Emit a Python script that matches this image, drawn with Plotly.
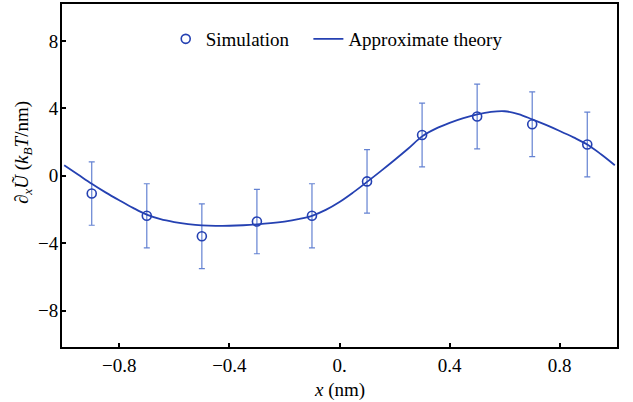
import plotly.graph_objects as go

# Simulation data points
sim_x = [-0.9, -0.7, -0.5, -0.3, -0.1, 0.1, 0.3, 0.5, 0.7, 0.9]
sim_y = [-1.05, -2.37, -3.58, -2.71, -2.37, -0.33, 2.42, 3.52, 3.06, 1.86]
sim_err = [1.88, 1.9, 1.92, 1.91, 1.9, 1.88, 1.89, 1.92, 1.92, 1.92]

# Approximate theory curve
theory_x = [-1.0, -0.95, -0.9, -0.85, -0.8, -0.75, -0.7, -0.65, -0.6, -0.55,
            -0.5, -0.45, -0.4, -0.35, -0.3, -0.25, -0.2, -0.15, -0.1, -0.05,
            0.0, 0.05, 0.1, 0.15, 0.2, 0.25, 0.3, 0.35, 0.4, 0.45,
            0.5, 0.55, 0.6, 0.65, 0.7, 0.75, 0.8, 0.85, 0.9, 0.95, 1.0]
theory_y = [0.63, 0.08, -0.47, -0.98, -1.45, -1.9, -2.3, -2.57, -2.74, -2.86,
            -2.94, -2.97, -2.96, -2.93, -2.88, -2.81, -2.71, -2.57, -2.37, -2.02,
            -1.55, -0.98, -0.36, 0.28, 0.94, 1.62, 2.34, 2.8, 3.14, 3.42,
            3.64, 3.79, 3.83, 3.66, 3.35, 3.02, 2.66, 2.28, 1.86, 1.28, 0.63]

x_ticks = [-0.8, -0.4, 0.0, 0.4, 0.8]
x_ticktext = ["\u22120.8", "\u22120.4", "0.", "0.4", "0.8"]
y_ticks = [-8, -4, 0, 4, 8]
y_ticktext = ["\u22128", "\u22124", "0", "4", "8"]

x_title = "<i>x</i> (nm)"
y_title = "\u2202<sub><i>x</i></sub><i>\u0168</i> (<i>k</i><sub><i>B</i></sub><i>T</i>/nm)"

blue = "#2541B2"
light_blue = "#6482D2"
font_family = "Liberation Serif, Times New Roman, serif"

fig = go.Figure()
fig.add_trace(go.Scatter(
    x=sim_x, y=sim_y, mode="markers", name="Simulation\u00a0\u00a0\u00a0",
    marker=dict(symbol="circle-open", size=9, color=blue, line=dict(width=1.6, color=blue)),
    error_y=dict(type="data", array=sim_err, visible=True, color=light_blue,
                 thickness=1.2, width=3),
))
fig.add_trace(go.Scatter(
    x=theory_x, y=theory_y, mode="lines", name="Approximate theory",
    line=dict(color=blue, width=1.8, shape="spline", smoothing=1.0),
))

fig.update_layout(
    width=633, height=402,
    margin=dict(l=62, r=16, t=4, b=55, autoexpand=False),
    paper_bgcolor="white", plot_bgcolor="white",
    font=dict(family=font_family, size=19, color="black"),
    showlegend=True,
    legend=dict(orientation="h", x=0.495, y=0.898, xanchor="center", yanchor="middle",
                font=dict(family=font_family, size=19, color="black"),
                bgcolor="rgba(0,0,0,0)"),
    xaxis=dict(range=[-1.008, 1.008], tickvals=x_ticks, ticktext=x_ticktext,
               ticks="inside", ticklen=4, tickwidth=1.5, tickcolor="black",
               showline=True, linecolor="black", linewidth=2, mirror=True,
               showgrid=False, zeroline=False, automargin=False),
    yaxis=dict(range=[-10.15, 10.19], tickvals=y_ticks, ticktext=y_ticktext,
               ticks="inside", ticklen=4, tickwidth=1.5, tickcolor="black",
               showline=True, linecolor="black", linewidth=2, mirror=True,
               showgrid=False, zeroline=False, automargin=False,
               ticklabelstandoff=-2),
    annotations=[
        dict(text=x_title, xref="paper", yref="paper", x=0.5, y=-0.126,
             xanchor="center", yanchor="middle", showarrow=False,
             font=dict(family=font_family, size=19, color="black")),
        dict(text=y_title, xref="paper", yref="paper", x=-0.071, y=0.567,
             xanchor="center", yanchor="middle", showarrow=False, textangle=-90,
             font=dict(family=font_family, size=19, color="black")),
    ],
)

fig.write_html("out.html", config={"displayModeBar": False},
               post_script="document.body.style.margin='0';document.body.style.overflow='hidden';")
